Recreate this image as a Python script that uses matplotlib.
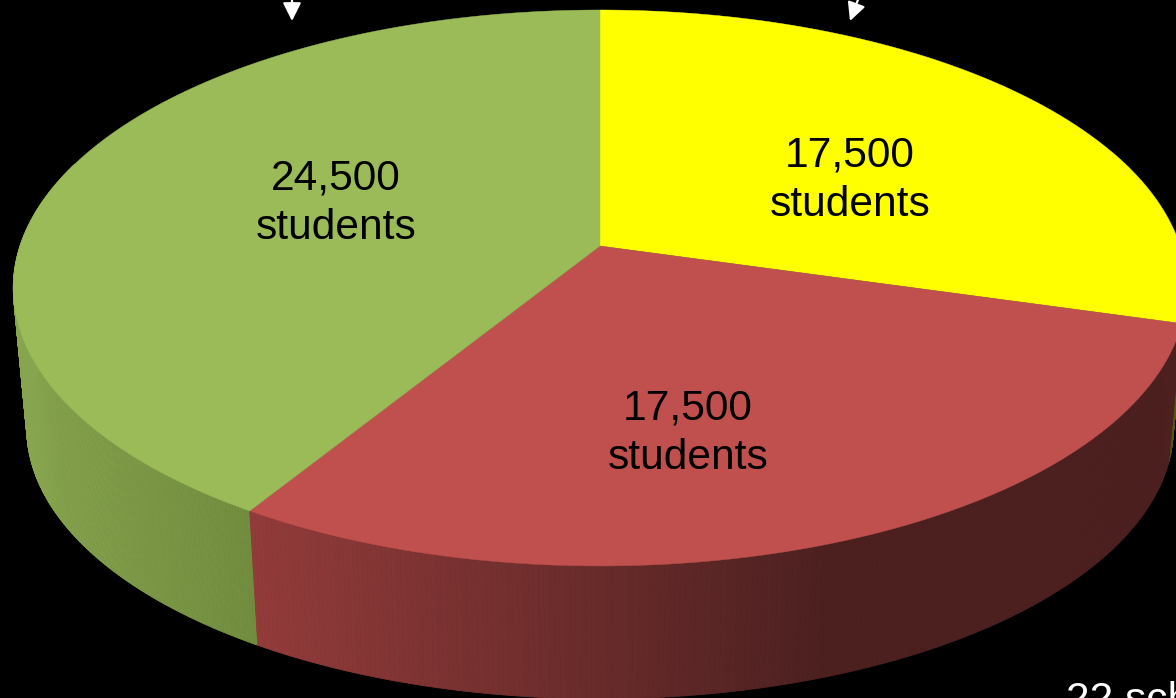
import numpy as np
import matplotlib
matplotlib.use("Agg")
import matplotlib.pyplot as plt
from matplotlib.patches import Polygon
from matplotlib.collections import PolyCollection
from matplotlib.colors import to_rgb

categories = ["Yellow group", "Red group", "Green group"]
students = [17500, 17500, 24500]
labels = ["17,500\nstudents", "17,500\nstudents", "24,500\nstudents"]
label_pos = [(850, 180), (688, 433), (336, 203)]
top_colors = ["#FFFF00", "#C0504D", "#9BBB59"]
footer = "22 schools"

plt.rcParams["font.family"] = ["Liberation Sans", "DejaVu Sans"]
fig = plt.figure(figsize=(11.76, 6.98), dpi=100, facecolor="black")
ax = fig.add_axes([0, 0, 1, 1])
ax.set_xlim(0, 1176)
ax.set_ylim(698, 0)
ax.axis("off")

# perspective projection of the unit disc
CX, A, C, a, b = 600.0, 580.0, 0.151, -234.5, 246.0
def top(theta):
    u, v = np.sin(theta), np.cos(theta)
    d = C * v + 1
    return CX + A * u / d, (a * v + b) / d
def bottom(theta):
    x, y = top(theta)
    return CX + 0.977 * (x - CX), y + 140 - 0.026 * (y - 290)

frac = np.cumsum([0] + students) / sum(students)
angles = 2 * np.pi * frac

def side_color(i, x):
    if i == 2:
        c0, c1 = np.array(to_rgb("#87A44E")), np.array(to_rgb("#718C3E"))
        t = np.clip((x - 20) / 240, 0, 1)
    elif i == 1:
        c0, c1 = np.array(to_rgb("#913B3A")), np.array(to_rgb("#4D2020"))
        t = np.clip((x - 260) / 570, 0, 1)
    else:
        return to_rgb("#55550A")
    return tuple(c0 + (c1 - c0) * t)

ranges = [(angles[0] + 1.2, angles[1]), (angles[1], angles[2]), (angles[2], angles[3] - 1.25)]
order = [0, 2, 1]
for i in order:
    s, e = ranges[i]
    th = np.linspace(s, e, 240)
    xt, yt = top(th)
    xb, yb = bottom(th)
    polys, cols = [], []
    for k in range(len(th) - 1):
        polys.append([(xt[k], yt[k]), (xt[k + 1], yt[k + 1]), (xb[k + 1], yb[k + 1]), (xb[k], yb[k])])
        cols.append(side_color(i, xt[k]))
    ax.add_collection(PolyCollection(polys, facecolors=cols, edgecolors=cols, linewidths=0.6, zorder=2))

for i, c in enumerate(top_colors):
    th = np.linspace(angles[i], angles[i + 1], 300)
    x, y = top(th)
    apex = (CX, b)
    ax.add_patch(Polygon(np.vstack([[apex], np.column_stack([x, y])]), closed=True,
                         facecolor=c, edgecolor=c, linewidth=0.3, zorder=3))

for txt, (x, y) in zip(labels, label_pos):
    ax.text(x, y, txt, ha="center", va="center", fontsize=30.6, color="black",
            linespacing=1.31, zorder=5)

for start, tip in [((292, -10), (292, 21)), ((859, -3), (850, 21))]:
    ax.annotate("", xy=tip, xytext=start, annotation_clip=False, zorder=6,
                arrowprops=dict(arrowstyle="-|>,head_length=1.1,head_width=0.55", color="white",
                                lw=1.6, shrinkA=0, shrinkB=0, mutation_scale=10))

ax.text(1066, 712, footer, ha="left", va="baseline", fontsize=30.6, color="white",
        zorder=6, clip_on=True)

fig.savefig("out.png", dpi=100, facecolor="black")
